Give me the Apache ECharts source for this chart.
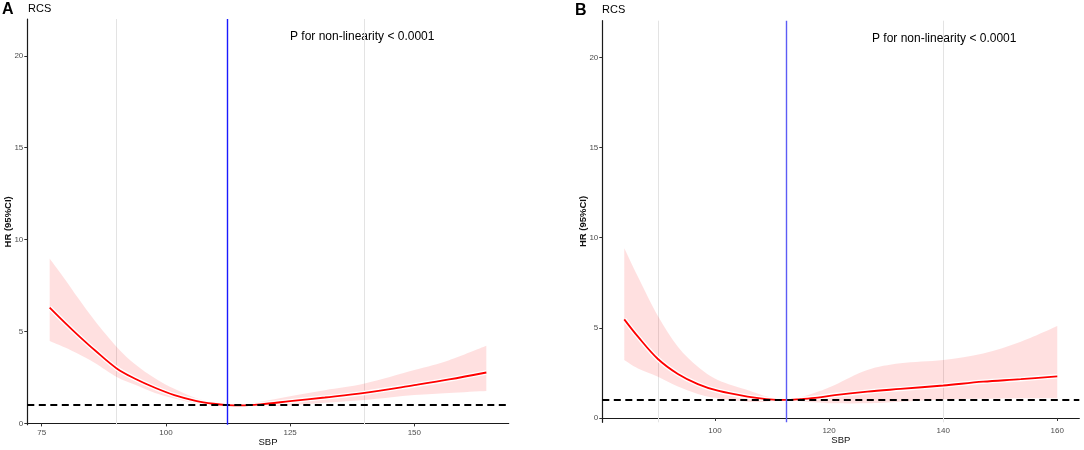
<!DOCTYPE html>
<html lang="en">
<head>
<meta charset="UTF-8">
<title>RCS - SBP</title>
<style>
  html, body { margin: 0; padding: 0; background: #fff; }
  #main { width: 1084px; height: 450px; }
</style>
</head>
<body>
<div id="main"></div>
<script src="https://cdn.jsdelivr.net/npm/echarts@6/dist/echarts.min.js"></script>
<script>
// panel A : SBP vs HR with 95% CI
var sbpA = [76.6, 79.7, 82.4, 85.7, 90.1, 93.8, 97.8, 101.7, 106, 109.6, 112.4, 115, 119, 125, 132, 140, 150, 157, 164.5];
var hrA  = [6.30, 5.47, 4.78, 3.98, 2.99, 2.43, 1.94, 1.54, 1.23, 1.07, 1.00, 0.98, 1.04, 1.21, 1.41, 1.66, 2.08, 2.39, 2.77];
var upA  = [8.97, 7.83, 6.79, 5.58, 4.16, 3.22, 2.46, 1.88, 1.38, 1.12, 1.00, 1.04, 1.18, 1.48, 1.81, 2.17, 2.90, 3.44, 4.22];
var loA  = [4.49, 4.13, 3.77, 3.29, 2.53, 2.10, 1.66, 1.36, 1.10, 1.02, 1.00, 0.93, 0.93, 0.99, 1.12, 1.27, 1.54, 1.66, 1.77];

// panel B
var sbpB = [84.1, 86.5, 90.0, 93.5, 97.0, 100.5, 105.7, 109, 112.4, 115, 118, 121, 126.7, 132.5, 140, 147, 153.6, 160];
var hrB  = [5.47, 4.51, 3.27, 2.44, 1.88, 1.51, 1.18, 1.05, 1.00, 1.05, 1.13, 1.27, 1.46, 1.61, 1.80, 2.01, 2.15, 2.31];
var upB  = [9.41, 7.83, 5.65, 3.95, 2.84, 2.11, 1.55, 1.20, 1.00, 1.15, 1.45, 1.83, 2.66, 3.03, 3.21, 3.58, 4.23, 5.10];
var loB  = [3.22, 2.75, 2.29, 1.74, 1.33, 1.09, 0.90, 0.90, 1.00, 0.93, 0.86, 0.81, 0.81, 0.90, 1.03, 1.07, 1.09, 1.09];

var xTicksA = [75, 100, 125, 150];
var xTicksB = [100, 120, 140, 160];
var yTicks = [0, 5, 10, 15, 20];
var greyLines = [90, 140];
var refA = 112.4;
var refB = 112.5;

var FONT = '"Liberation Sans", Arial, sans-serif';
var chart = echarts.init(document.getElementById('main'));

function zip(xs, ys) {
    var out = [];
    for (var i = 0; i < xs.length; i++) out.push([xs[i], ys[i]]);
    return out;
}

function xAxisOf(idx, min, max, ticks) {
    return {
        type: 'value', gridIndex: idx, min: min, max: max,
        name: 'SBP', nameLocation: 'middle', nameGap: 13, nameMoveOverlap: false,
        nameTextStyle: { fontFamily: FONT, fontSize: 9.5, color: '#111' },
        axisLine: { lineStyle: { color: '#1a1a1a', width: 1.2 } },
        axisTick: { customValues: ticks, length: 3, lineStyle: { color: '#333' } },
        axisLabel: { customValues: ticks, margin: 4, fontFamily: FONT, fontSize: 8, color: '#4d4d4d' },
        splitLine: { show: false }
    };
}

function yAxisOf(idx, min, max) {
    return {
        type: 'value', gridIndex: idx, min: min, max: max,
        name: 'HR (95%CI)', nameLocation: 'middle', nameGap: 13.5, nameRotate: 90, nameMoveOverlap: false,
        nameTextStyle: { fontFamily: FONT, fontSize: 9.5, fontWeight: 'bold', color: '#111' },
        axisLine: { lineStyle: { color: '#1a1a1a', width: 1.2 } },
        axisTick: { customValues: yTicks, length: 3, lineStyle: { color: '#333' } },
        axisLabel: { customValues: yTicks, margin: 4, fontFamily: FONT, fontSize: 8, color: '#4d4d4d' },
        splitLine: { show: false }
    };
}

// catmull-rom through pixel points, as bezier path commands
function splinePath(p) {
    var d = '';
    for (var i = 0; i < p.length - 1; i++) {
        var a = p[Math.max(i - 1, 0)], b = p[i], c = p[i + 1], e = p[Math.min(i + 2, p.length - 1)];
        var c1x = b[0] + (c[0] - a[0]) / 6, c1y = b[1] + (c[1] - a[1]) / 6;
        var c2x = c[0] - (e[0] - b[0]) / 6, c2y = c[1] - (e[1] - b[1]) / 6;
        d += ' C' + c1x + ',' + c1y + ' ' + c2x + ',' + c2y + ' ' + c[0] + ',' + c[1];
    }
    return d;
}

function bandSeries(idx, xs, lo, up) {
    return {
        type: 'custom', xAxisIndex: idx, yAxisIndex: idx, z: 2, silent: true,
        data: [[xs[0], up[0]]],
        renderItem: function (params, api) {
            var top = [], bot = [];
            for (var i = 0; i < xs.length; i++) top.push(api.coord([xs[i], up[i]]));
            for (var j = xs.length - 1; j >= 0; j--) bot.push(api.coord([xs[j], lo[j]]));
            var d = 'M' + top[0][0] + ',' + top[0][1] + splinePath(top) +
                ' L' + bot[0][0] + ',' + bot[0][1] + splinePath(bot) + ' Z';
            return { type: 'path', shape: { pathData: d }, style: { fill: 'rgba(255,0,0,0.12)' } };
        }
    };
}

function curveSeries(idx, xs, hr, ref, blue) {
    var pts = zip(xs, hr);
    return [
        {   // white outline under the red line, also carries the grey reference lines
            type: 'line', xAxisIndex: idx, yAxisIndex: idx, z: 3, silent: true,
            data: pts, smooth: 0.35, showSymbol: false,
            lineStyle: { color: '#fff', width: 4.5 },
            markLine: {
                z: 1, silent: true, symbol: 'none', label: { show: false },
                lineStyle: { color: '#e3e3e3', width: 1, type: 'solid' },
                data: greyLines.map(function (v) { return { xAxis: v }; })
            }
        },
        {
            type: 'line', xAxisIndex: idx, yAxisIndex: idx, z: 4, silent: true,
            data: pts, smooth: 0.35, showSymbol: false,
            lineStyle: { color: '#ff0000', width: 1.8 },
            markLine: {
                z: 5, silent: true, symbol: 'none', label: { show: false },
                data: [
                    { yAxis: 1, lineStyle: { color: '#000', width: 2, type: [7, 4.5] } },
                    { xAxis: ref, lineStyle: { color: blue, width: 1.4, type: 'solid' } }
                ]
            }
        }
    ];
}

var option = {
    animation: false,
    backgroundColor: '#fff',
    grid: [
        { left: 27.3, top: 19, width: 481.4, height: 405.7, outerBoundsMode: 'none' },
        { left: 602.3, top: 20.7, width: 477, height: 401.6, outerBoundsMode: 'none' }
    ],
    xAxis: [xAxisOf(0, 72.1, 169.0, xTicksA), xAxisOf(1, 80.25, 163.86, xTicksB)],
    yAxis: [yAxisOf(0, -0.07, 22.0), yAxisOf(1, -0.24, 22.03)],
    series: [bandSeries(0, sbpA, loA, upA), bandSeries(1, sbpB, loB, upB)]
        .concat(curveSeries(0, sbpA, hrA, refA, '#1a1aff'))
        .concat(curveSeries(1, sbpB, hrB, refB, '#5c5cf5')),
    graphic: [
        { type: 'text', left: 2, top: 2, style: { text: 'A', font: 'bold 16px ' + FONT, fill: '#000' } },
        { type: 'text', left: 28, top: 3, style: { text: 'RCS', font: '11px ' + FONT, fill: '#000' } },
        { type: 'text', left: 575, top: 3, style: { text: 'B', font: 'bold 16px ' + FONT, fill: '#000' } },
        { type: 'text', left: 602, top: 4, style: { text: 'RCS', font: '11px ' + FONT, fill: '#000' } },
        { type: 'text', left: 290, top: 31, style: { text: 'P for non-linearity < 0.0001', font: '12px ' + FONT, fill: '#000' } },
        { type: 'text', left: 872, top: 33, style: { text: 'P for non-linearity < 0.0001', font: '12px ' + FONT, fill: '#000' } }
    ]
};

chart.setOption(option);
</script>
</body>
</html>
